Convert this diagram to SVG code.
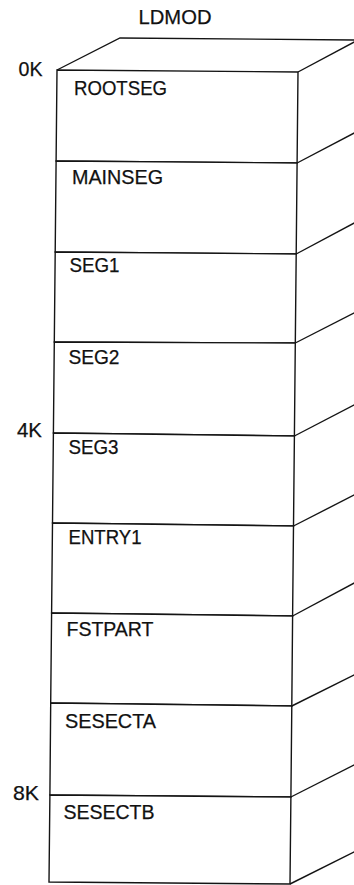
<svg xmlns="http://www.w3.org/2000/svg" width="354" height="885" viewBox="0 0 354 885">
  <style>
    .ln { fill: none; stroke: #141414; stroke-width: 1.4; stroke-linejoin: miter; }
    .face { fill: #ffffff; stroke: #141414; stroke-width: 1.4; }
    .lbl { font-family: "Liberation Sans", Arial, sans-serif; font-size: 20.5px; fill: #111; stroke: #111; stroke-width: 0.25; }
  </style>
  <rect width="354" height="885" fill="#ffffff"/>
  <text class="lbl" x="138.5" y="23.5" textLength="73" lengthAdjust="spacingAndGlyphs">LDMOD</text>

  <g id="box-top">
    <polyline class="ln" points="57,70 120,38 358,40"/>
  </g>

  <g id="depth-edges">
    <line class="ln" x1="298.0" y1="72" x2="358" y2="40"/>
    <line class="ln" x1="297.1" y1="163" x2="358" y2="131"/>
    <line class="ln" x1="296.2" y1="254" x2="358" y2="221"/>
    <line class="ln" x1="295.3" y1="343" x2="358" y2="311"/>
    <line class="ln" x1="294.4" y1="436" x2="358" y2="403"/>
    <line class="ln" x1="293.5" y1="526" x2="358" y2="493"/>
    <line class="ln" x1="292.6" y1="616" x2="358" y2="581"/>
    <line class="ln" x1="291.8" y1="706" x2="358" y2="673"/>
    <line class="ln" x1="290.9" y1="797" x2="358" y2="763"/>
    <line class="ln" x1="290.0" y1="884" x2="358" y2="850"/>
  </g>

  <g id="seg-rootseg">
    <polygon class="face" points="57.0,70 298.0,72 297.1,163 56.1,161"/>
    <text class="lbl" x="74" y="95" textLength="93" lengthAdjust="spacingAndGlyphs">ROOTSEG</text>
  </g>
  <g id="seg-mainseg">
    <polygon class="face" points="56.1,161 297.1,163 296.2,254 55.2,252"/>
    <text class="lbl" x="72" y="184" textLength="91" lengthAdjust="spacingAndGlyphs">MAINSEG</text>
  </g>
  <g id="seg-seg1">
    <polygon class="face" points="55.2,252 296.2,254 295.3,343 54.3,342"/>
    <text class="lbl" x="69.5" y="272" textLength="50" lengthAdjust="spacingAndGlyphs">SEG1</text>
  </g>
  <g id="seg-seg2">
    <polygon class="face" points="54.3,342 295.3,343 294.4,436 53.4,433"/>
    <text class="lbl" x="68.5" y="364" textLength="51" lengthAdjust="spacingAndGlyphs">SEG2</text>
  </g>
  <g id="seg-seg3">
    <polygon class="face" points="53.4,433 294.4,436 293.5,526 52.5,523"/>
    <text class="lbl" x="68.5" y="454" textLength="50" lengthAdjust="spacingAndGlyphs">SEG3</text>
  </g>
  <g id="seg-entry1">
    <polygon class="face" points="52.5,523 293.5,526 292.6,616 51.6,613"/>
    <text class="lbl" x="68.5" y="544" textLength="73" lengthAdjust="spacingAndGlyphs">ENTRY1</text>
  </g>
  <g id="seg-fstpart">
    <polygon class="face" points="51.6,613 292.6,616 291.8,706 50.7,703"/>
    <text class="lbl" x="66.5" y="636" textLength="87" lengthAdjust="spacingAndGlyphs">FSTPART</text>
  </g>
  <g id="seg-sesecta">
    <polygon class="face" points="50.7,703 291.8,706 290.9,797 49.9,795"/>
    <text class="lbl" x="65" y="728" textLength="91" lengthAdjust="spacingAndGlyphs">SESECTA</text>
  </g>
  <g id="seg-sesectb">
    <polygon class="face" points="49.9,795 290.9,797 290.0,884 49.0,882"/>
    <text class="lbl" x="63.5" y="819" textLength="91" lengthAdjust="spacingAndGlyphs">SESECTB</text>
  </g>

  <g id="addresses">
    <text class="lbl" x="18.5" y="76" textLength="24" lengthAdjust="spacingAndGlyphs">0K</text>
    <text class="lbl" x="17" y="437" textLength="25" lengthAdjust="spacingAndGlyphs">4K</text>
    <text class="lbl" x="13" y="800" textLength="26" lengthAdjust="spacingAndGlyphs">8K</text>
  </g>
</svg>
